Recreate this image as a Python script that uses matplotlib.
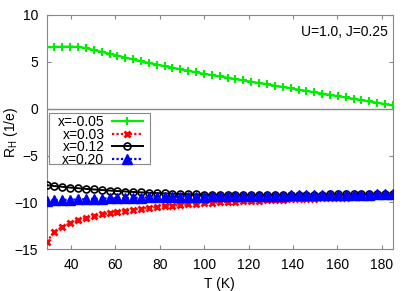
import numpy as np
import matplotlib
matplotlib.use("Agg")
import matplotlib.pyplot as plt
from matplotlib.patches import Rectangle

T = [29.0, 32.5, 36.1, 39.6, 43.2, 46.7, 50.3, 53.8, 57.4, 60.9, 64.5, 68.0,
     71.5, 75.1, 78.6, 82.2, 85.7, 89.3, 92.8, 96.4, 99.9, 103.5, 107.0, 110.5,
     114.1, 117.6, 121.2, 124.7, 128.3, 131.8, 135.4, 138.9, 142.5, 146.0,
     149.5, 153.1, 156.6, 160.2, 163.7, 167.3, 170.8, 174.4, 177.9, 181.5, 185.0]

rh_m005 = [6.55, 6.58, 6.60, 6.61, 6.58, 6.45, 6.25, 6.05, 5.85, 5.65, 5.45,
           5.25, 5.05, 4.87, 4.70, 4.53, 4.36, 4.19, 4.03, 3.87, 3.71, 3.57,
           3.43, 3.29, 3.15, 3.01, 2.87, 2.73, 2.59, 2.45, 2.31, 2.17, 2.03,
           1.89, 1.75, 1.61, 1.47, 1.33, 1.19, 1.05, 0.91, 0.77, 0.63, 0.49, 0.35]

rh_003 = [-14.2, -13.1, -12.6, -12.2, -11.9, -11.65, -11.45, -11.28, -11.13,
          -11.0, -10.88, -10.77, -10.67, -10.58, -10.49, -10.41, -10.34, -10.27,
          -10.21, -10.15, -10.1, -10.05, -10.0, -9.96, -9.92, -9.88, -9.84,
          -9.80, -9.77, -9.74, -9.71, -9.68, -9.65, -9.62, -9.59, -9.56, -9.53,
          -9.50, -9.47, -9.44, -9.41, -9.38, -9.35, -9.32, -9.29]

rh_012 = [-8.15, -8.25, -8.33, -8.41, -8.48, -8.55, -8.61, -8.67, -8.73, -8.78,
          -8.83, -8.88, -8.92, -8.96, -9.0, -9.03, -9.06, -9.09, -9.12, -9.14,
          -9.16, -9.18, -9.19, -9.20, -9.21, -9.21, -9.21, -9.21, -9.20, -9.20,
          -9.19, -9.19, -9.18, -9.17, -9.16, -9.15, -9.14, -9.13, -9.12, -9.11,
          -9.10, -9.09, -9.08, -9.07, -9.06]

rh_020 = [-9.83, -9.78, -9.74, -9.70, -9.67, -9.64, -9.61, -9.58, -9.56, -9.54,
          -9.52, -9.50, -9.48, -9.46, -9.45, -9.43, -9.42, -9.40, -9.39, -9.38,
          -9.37, -9.35, -9.34, -9.33, -9.32, -9.31, -9.30, -9.29, -9.28, -9.27,
          -9.26, -9.25, -9.24, -9.23, -9.22, -9.21, -9.20, -9.19, -9.18, -9.17,
          -9.16, -9.15, -9.13, -9.12, -9.10]

plt.rcParams['font.family'] = ['Liberation Sans', 'DejaVu Sans']
plt.rcParams['font.size'] = 10

fig = plt.figure(figsize=(4.15, 2.91), dpi=100)
ax = fig.add_axes([0.1125, 0.143, 0.834, 0.806])

gray = '#888888'
ax.axhline(0, color=gray, lw=1.0, zorder=1)

ax.plot(T, rh_m005, color='#00ee00', lw=1.6, ls='-', marker='+', ms=6, mew=1.5,
        label='x=-0.05', zorder=3)
ax.plot(T, rh_003, color='#ff0000', lw=1.6, ls=(0, (1, 1)), marker='x', ms=5, mew=2.0,
        label='x=0.03', zorder=4)
ax.plot(T, rh_012, color='black', lw=1.4, ls='-', marker='o', ms=5, mew=1.2,
        mfc='none', label='x=0.12', zorder=5)
ax.plot(T, rh_020, color='#0000ff', lw=1.6, ls=(0, (1, 1)), marker='^', ms=6.5,
        label='x=0.20', zorder=6)

ax.set_xlim(29, 185)
ax.set_ylim(-15, 10)
ax.set_xticks([40, 60, 80, 100, 120, 140, 160, 180])
ax.set_yticks([-15, -10, -5, 0, 5, 10])
ax.tick_params(direction='in', top=True, right=True, length=3, color=gray, pad=6)
for s in ax.spines.values():
    s.set_color(gray)

ax.set_xlabel('T (K)')
ax.xaxis.set_label_coords(0.5, -0.118)
ax.set_ylabel(r'R$_\mathregular{H}$ (1/e)')
ax.yaxis.set_label_coords(-0.078, 0.5)
ax.text(0.985, 0.955, 'U=1.0, J=0.25', transform=ax.transAxes, ha='right', va='top')

# gnuplot-like key: white box with gray border, text right-aligned before sample
ax.add_patch(Rectangle((0.0066, 0.364), 0.292, 0.216, transform=ax.transAxes,
                       facecolor='white', edgecolor=gray, lw=0.8, zorder=7))
leg = ax.legend(loc='upper right', bbox_to_anchor=(0.285, 0.585), borderaxespad=0,
                markerfirst=False, handlelength=2.2, handletextpad=0.55,
                borderpad=0.2, labelspacing=-0.1, frameon=False, fontsize=10)
leg.set_zorder(8)
for col in leg._legend_box._children[-1]._children:
    col.align = 'right'

fig.savefig('out.png', dpi=100)
